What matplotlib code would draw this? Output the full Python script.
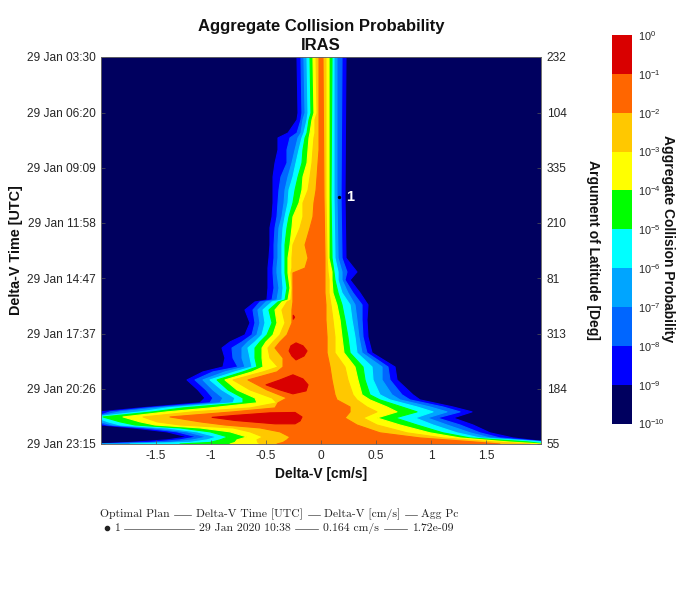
import matplotlib
matplotlib.use("Agg")
import matplotlib.pyplot as plt
from matplotlib.colors import ListedColormap, BoundaryNorm
from matplotlib.colorbar import ColorbarBase
from matplotlib.lines import Line2D

plt.rcParams['font.family'] = ['Liberation Sans', 'DejaVu Sans']
plt.rcParams['mathtext.default'] = 'regular'

W, H = 680, 595

# time rows [hours of 29 Jan] at which the contour edges were read
t_left = [3.5,6.36,6.71,7.38,7.63,8.24,8.91,9.62,10.29,10.95,11.66,12.22,13.09,13.76,14.27,14.52,15.29,15.9,16.0,16.41,17.07,17.68,18.04,18.35,18.86,19.32,19.57,19.98,20.49,20.9,21.15,21.41,21.61,21.87,22.12,22.28,22.43,22.63,22.89,23.04,23.17,23.25]
t_right = [3.5,10.64,13.76,14.47,14.88,15.54,16.15,16.92,17.79,18.6,19.32,19.98,20.74,21.0,21.36,21.61,21.92,22.28,22.68,22.94,23.14,23.25]

# left edge of each Pc contour [cm/s]
left_1e9 = [-.218,-.209,-.218,-.3,-.391,-.391,-.418,-.436,-.436,-.436,-.445,-.464,-.464,-.473,-.482,-.482,-.482,-.491,-.6,-.691,-.645,-.691,-.827,-.9,-.873,-.891,-1.073,-1.218,-1.118,-1.055,-1.1,-1.645,-2.009,-2.055,-2.055,-2.0,-1.709,-1.4,-1.209,-1.4,-1.736,-2.055]
left_1e8 = [-.182,-.173,-.182,-.218,-.282,-.309,-.309,-.364,-.382,-.391,-.4,-.418,-.427,-.427,-.436,-.436,-.427,-.445,-.555,-.618,-.6,-.627,-.718,-.809,-.8,-.755,-.982,-1.145,-1.045,-.982,-1.009,-1.582,-1.918,-2.055,-2.055,-1.945,-1.618,-1.309,-1.127,-1.282,-1.555,-2.055]
left_1e7 = [-.155,-.145,-.164,-.182,-.209,-.236,-.264,-.3,-.327,-.336,-.355,-.382,-.391,-.391,-.4,-.4,-.382,-.4,-.5,-.573,-.555,-.582,-.664,-.718,-.718,-.691,-.873,-1.073,-.982,-.891,-.918,-1.491,-1.827,-2.055,-2.0,-1.891,-1.527,-1.218,-1.036,-1.164,-1.373,-2.055]
left_1e6 = [-.127,-.118,-.127,-.155,-.173,-.2,-.227,-.255,-.291,-.3,-.327,-.345,-.355,-.355,-.355,-.355,-.345,-.355,-.445,-.527,-.509,-.536,-.6,-.664,-.645,-.627,-.782,-1.009,-.9,-.782,-.8,-1.4,-1.645,-2.055,-1.936,-1.827,-1.4,-1.127,-.945,-1.036,-1.191,-1.736]
left_1e5 = [-.1,-.091,-.109,-.127,-.145,-.164,-.173,-.209,-.236,-.255,-.291,-.309,-.327,-.327,-.327,-.327,-.309,-.327,-.391,-.473,-.445,-.491,-.555,-.6,-.6,-.582,-.709,-.945,-.845,-.709,-.709,-1.255,-1.527,-1.982,-1.827,-1.691,-1.282,-1.009,-.845,-.918,-1.009,-1.282]
left_1e4 = [-.073,-.064,-.082,-.1,-.109,-.118,-.127,-.164,-.173,-.2,-.255,-.264,-.282,-.3,-.3,-.3,-.282,-.3,-.355,-.418,-.4,-.436,-.5,-.536,-.536,-.527,-.627,-.873,-.764,-.6,-.582,-1.009,-1.4,-1.8,-1.645,-1.509,-1.1,-.827,-.673,-.764,-.782,-.827]
left_1e3 = [-.045,-.036,-.055,-.055,-.064,-.073,-.082,-.1,-.118,-.164,-.164,-.191,-.255,-.264,-.264,-.273,-.264,-.273,-.309,-.355,-.327,-.373,-.436,-.482,-.464,-.391,-.527,-.8,-.645,-.445,-.4,-.645,-1.164,-1.618,-1.491,-1.282,-.8,-.645,-.527,-.582,-.573,-.555]
left_1e2 = [-.018,-.018,-.018,-.018,-.018,-.018,-.027,-.036,-.045,-.064,-.073,-.1,-.145,-.118,-.145,-.255,-.255,-.255,-.255,-.264,-.264,-.309,-.373,-.418,-.345,-.345,-.4,-.664,-.491,-.309,-.391,-.418,-.8,-1.373,-1.1,-.873,-.555,-.373,-.282,-.309,-.345,-.4]

# right edge of each Pc contour [cm/s]
right_1e9 = [.227,.218,.227,.327,.264,.355,.427,.418,.427,.464,.673,.691,.836,.9,1.2,1.373,1.2,1.382,1.536,1.745,2.045,2.045]
right_1e8 = [.191,.182,.191,.236,.218,.291,.373,.373,.382,.418,.609,.627,.736,.809,1.109,1.264,1.055,1.264,1.445,1.627,2.045,2.045]
right_1e7 = [.145,.145,.155,.191,.191,.245,.309,.327,.345,.373,.555,.555,.645,.718,.991,1.145,.964,1.145,1.355,1.536,2.045,2.045]
right_1e6 = [.118,.118,.127,.155,.155,.191,.264,.282,.309,.327,.464,.473,.536,.627,.873,1.018,.855,1.018,1.236,1.445,2.0,2.045]
right_1e5 = [.1,.091,.1,.118,.127,.155,.191,.218,.245,.264,.382,.4,.445,.536,.736,.873,.673,.873,1.109,1.355,1.873,2.045]
right_1e4 = [.073,.073,.073,.1,.1,.109,.145,.173,.191,.209,.309,.336,.373,.445,.6,.691,.509,.718,.991,1.264,1.691,2.0]
right_1e3 = [.045,.045,.055,.064,.073,.073,.091,.109,.127,.127,.218,.245,.291,.327,.418,.509,.382,.509,.782,1.109,1.564,1.9]
right_1e2 = [.018,.027,.036,.036,.036,.036,.045,.045,.055,.055,.082,.1,.127,.145,.264,.264,.218,.327,.536,.9,1.382,1.627]

# regions above 1e-1
red_a_dv = [-.99,-.78,-.464,-.236,-.173,-.19,-.236,-.418,-.78]
red_a_t = [21.89,21.79,21.66,21.64,21.87,22.07,22.22,22.22,22.05]
red_b_dv = [-.50,-.373,-.255,-.164,-.118,-.136,-.255,-.373]
red_b_t = [20.23,19.98,19.72,19.93,20.23,20.54,20.69,20.49]
red_c_dv = [-.29,-.273,-.227,-.164,-.127,-.155,-.227,-.264]
red_c_t = [18.5,18.24,18.09,18.24,18.5,18.76,18.96,18.76]
red_d_dv = [-.252,-.24,-.252]
red_d_t = [16.68,16.78,16.88]

level_colors = ['#00005f', '#0000ff', '#0066ff', '#00a5ff', '#00ffff', '#00ff00',
                '#ffff00', '#ffc800', '#ff6600', '#d90000']
pc_levels = [1e-10, 1e-9, 1e-8, 1e-7, 1e-6, 1e-5, 1e-4, 1e-3, 1e-2, 1e-1, 1e0]
pc_exponents = [-10, -9, -8, -7, -6, -5, -4, -3, -2, -1, 0]

y_ticks = [3.5, 6.3333, 9.15, 11.9667, 14.7833, 17.6167, 20.4333, 23.25]
y_labels = ['29 Jan 03:30', '29 Jan 06:20', '29 Jan 09:09', '29 Jan 11:58',
            '29 Jan 14:47', '29 Jan 17:37', '29 Jan 20:26', '29 Jan 23:15']
arglat_labels = ['232', '104', '335', '210', '81', '313', '184', '55']
x_ticks = [-1.5, -1, -0.5, 0, 0.5, 1, 1.5]
x_labels = ['-1.5', '-1', '-0.5', '0', '0.5', '1', '1.5']

plan_dv = 0.164
plan_t = 10 + 38 / 60

fig = plt.figure(figsize=(W / 100, H / 100), dpi=100, facecolor='white')
ax = fig.add_axes([101 / W, 1 - 444 / H, 440 / W, 387 / H])
ax.set_facecolor(level_colors[0])
ax.set_xlim(-2, 2)
ax.set_ylim(23.25, 3.5)

lefts = [left_1e9, left_1e8, left_1e7, left_1e6, left_1e5, left_1e4, left_1e3, left_1e2]
rights = [right_1e9, right_1e8, right_1e7, right_1e6, right_1e5, right_1e4, right_1e3, right_1e2]
for le, ri, col in zip(lefts, rights, level_colors[1:9]):
    ax.fill(le + ri[::-1], t_left + t_right[::-1], color=col, lw=0.8, ec=col, joinstyle='round')
for dv, tt in [(red_a_dv, red_a_t), (red_b_dv, red_b_t), (red_c_dv, red_c_t), (red_d_dv, red_d_t)]:
    ax.fill(dv, tt, color=level_colors[9], lw=0.8, ec=level_colors[9], joinstyle='round')

ax.plot([plan_dv], [plan_t], 'o', color='black', ms=1.4)
ax.annotate('1', (plan_dv, plan_t), xytext=(5, 0), textcoords='offset points', color='white',
            fontsize=10.5, fontweight='bold', va='center', ha='left')

tick_col = '#262626'
ax.set_xticks(x_ticks)
ax.set_xticklabels(x_labels, fontsize=8.6, color=tick_col)
ax.set_yticks(y_ticks)
ax.set_yticklabels(y_labels, fontsize=8.6, color=tick_col)
ax.tick_params(direction='in', length=3, width=0.5, color='#555555', pad=4)
for s in ax.spines.values():
    s.set_linewidth(0.5)
    s.set_color('#666666')

ax2 = ax.twinx()
ax2.set_ylim(23.25, 3.5)
ax2.set_yticks(y_ticks)
ax2.set_yticklabels(arglat_labels, fontsize=8.6, color=tick_col)
ax2.tick_params(direction='in', length=3, width=0.5, color='#555555', pad=4)
for s in ax2.spines.values():
    s.set_linewidth(0.5)
    s.set_color('#666666')


def put(px, py, s, **kw):
    kw.setdefault('ha', 'center')
    kw.setdefault('va', 'center')
    return fig.text(px / W, 1 - py / H, s, **kw)


put(321, 26, 'Aggregate Collision Probability', fontsize=12, fontweight='bold', color='#111111')
put(321, 45, 'IRAS', fontsize=12, fontweight='bold', color='#111111')
put(321, 474, 'Delta-V [cm/s]', fontsize=10, fontweight='bold', color='#111111')
put(16, 250, 'Delta-V Time [UTC]', fontsize=10.4, fontweight='bold', rotation=90, color='#111111')
put(593, 250, 'Argument of Latitude [Deg]', fontsize=10, fontweight='bold', rotation=270, color='#111111')
put(668, 239, 'Aggregate Collision Probability', fontsize=10, fontweight='bold', rotation=270, color='#111111')

cax = fig.add_axes([612 / W, 1 - 423.5 / H, 20 / W, 388.5 / H])
cb = ColorbarBase(cax, cmap=ListedColormap(level_colors), norm=BoundaryNorm(pc_levels, 10),
                  orientation='vertical', spacing='uniform')
cb.set_ticks(pc_levels)
cb.set_ticklabels([f'$10^{{{e}}}$' for e in pc_exponents], fontsize=7.8, color=tick_col)
cb.ax.tick_params(length=0, pad=4)
cb.ax.minorticks_off()
cb.outline.set_visible(False)

# footer table
serif = ['cmr10', 'DejaVu Serif']
row1_text = ['Optimal Plan', 'Delta-V Time [UTC]', 'Delta-V [cm/s]', 'Agg Pc']
row2_text = ['1', '29 Jan 2020 10:38', '0.164 cm/s', '1.72e-09']
row1_x = [100, 196, 324, 421]
row2_x = [114, 199, 323, 412]
row1_rules = [(174, 191), (308, 320), (405, 417)]
row2_rules = [(124, 194), (295, 318), (384, 407)]
for x, s in zip(row1_x, row1_text):
    put(x, 514, s, ha='left', fontsize=8.4, family=serif, color='#222222')
for x, s in zip(row2_x, row2_text):
    put(x, 528, s, ha='left', fontsize=8.4, family=serif, color='#222222')
for yy, rules in [(515, row1_rules), (528.5, row2_rules)]:
    for a, b in rules:
        fig.add_artist(Line2D([a / W, b / W], [1 - yy / H] * 2, color='#444444', lw=0.5))
fig.add_artist(Line2D([107 / W], [1 - 528 / H], marker='o', ms=3, color='#222222', ls='none'))

fig.savefig('out.png', dpi=100)
